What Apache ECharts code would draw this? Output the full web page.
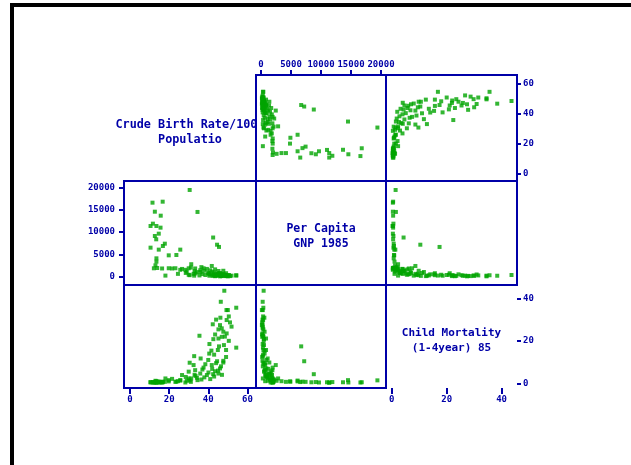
<!DOCTYPE html>
<html>
<head>
<meta charset="utf-8">
<script src="https://cdn.jsdelivr.net/npm/echarts@6/dist/echarts.min.js"></script>
<style>
html, body { margin: 0; padding: 0; background: #ffffff; }
#chart { width: 631px; height: 465px; }
</style>
</head>
<body>
<div id="chart"></div>
<script>
// One entry per country: crude birth rate, per capita GNP 1985, child mortality (1-4 years) 1985
const birthRate = [
  11.5, 16.7, 12.7, 15.7, 10.5, 11.7, 13.5, 15.6, 14.7, 12.7,
  13.4, 17.8, 16.8, 10.5, 14.7, 19.8, 13.5, 13.5, 25.7, 23.7,
  30.5, 34.5, 42.5, 44.5, 45.5, 31.3, 41.8,
  12.2, 13.9, 16.4, 19.8, 21.5, 23.2, 26.6, 30.0, 33.3, 37.6,
  18.1, 25.7, 28.3, 31.1, 13.0,
  48.2, 46.4, 54.3, 49.3, 50.0, 46.2, 42.3, 49.4, 51.1, 51.9,
  46.0, 45.2, 47.7, 49.4, 35.5, 42.6, 45.2, 46.9, 54.3, 40.6,
  49.1, 41.6, 32.8, 36.1, 49.1, 47.7, 30.5, 32.5, 30.0, 40.1,
  43.5, 45.2, 35.9, 34.2, 39.3, 47.7, 44.9, 43.5, 46.9,
  43.0, 38.5, 44.0, 46.5, 48.0, 50.5, 40.0, 37.0, 42.0, 45.0,
  33.0, 28.5, 38.0, 43.0, 47.0, 36.5, 29.0, 40.5, 48.5, 44.0,
  50.5, 33.5, 24.5, 46.0, 41.0
];
const gnpPerCapita = [
  16570, 16790, 14560, 13670, 11370, 11890, 11370, 11000, 9660, 9140,
  8400, 7430, 6910, 6540, 6100, 4830, 4160, 3420, 6100, 4900,
  19400, 14500, 8800, 7200, 6700, 2850, 2460,
  1940, 2000, 1900, 1950, 1900, 1950, 1800, 1940, 1900, 1940,
  310, 1600, 1600, 2100, 2600,
  440, 280, 390, 300, 150, 560, 250, 350, 200, 300,
  150, 400, 600, 250, 350, 500, 840, 200, 320, 280,
  840, 600, 300, 1110, 200, 1390, 400, 700, 500, 800,
  1700, 1340, 1500, 1100, 1800, 250, 400, 180, 270,
  350, 450, 700, 300, 500, 450, 900, 650, 1200, 600,
  1300, 900, 1400, 1000, 700, 2200, 1200, 600, 400, 250,
  350, 800, 700, 900, 1500
];
const childMortality = [
  0.4, 0.5, 0.4, 0.5, 0.4, 0.6, 0.3, 0.5, 0.4, 0.6,
  0.5, 0.7, 0.8, 0.6, 0.9, 0.9, 0.7, 1.0, 1.3, 0.8,
  1.4, 1.5, 4.3, 10.4, 17.4, 2.3, 8.6,
  0.4, 0.5, 0.4, 1.5, 2.1, 0.7, 3.9, 2.3, 6.2, 7.4,
  2.3, 1.5, 0.4, 0.7, 1.2,
  43.6, 38.4, 35.6, 34.5, 34.5, 30.9, 27.8, 29.8, 28.7, 26.7,
  27.4, 25.4, 24.3, 23.5, 22.4, 20.8, 21.1, 21.9, 16.8, 18.5,
  15.7, 15.4, 12.8, 11.7, 12.4, 9.8, 9.7, 8.6, 5.5, 5.1,
  5.7, 4.6, 4.6, 2.6, 3.9, 10.6, 15.7, 23.0, 25.9,
  13.5, 9.0, 9.5, 8.0, 18.0, 20.0, 11.0, 6.5, 6.8, 6.0,
  4.0, 3.0, 2.8, 3.2, 4.0, 1.8, 1.2, 14.0, 22.0, 30.0,
  31.5, 3.5, 1.0, 7.0, 2.0
];

// Tick labels for each variable
const birthTicks = [0, 20, 40, 60];
const gnpTicks = [0, 5000, 10000, 15000, 20000];
const mortTicks = [0, 20, 40];

// Titles shown on the diagonal
const birthTitle = ['Crude Birth Rate/1000', 'Populatio'];
const gnpTitle = ['Per Capita', 'GNP 1985'];
const mortTitle = ['Child Mortality', '(1-4year) 85'];

const BLUE = '#0000a8';
const GREEN = '#00a400';
const MONO = '"DejaVu Sans Mono", "Liberation Mono", monospace';

// Matrix layout: column and row edges in pixels
const colX = [124, 256, 386, 517];
const rowY = [75, 181, 285, 388];

const variables = [
  { values: birthRate, ticks: birthTicks, title: birthTitle, titleSize: 11.8, xRange: [-3.07, 64.4], yRange: [-5.1, 65.5] },
  { values: gnpPerCapita, ticks: gnpTicks, title: gnpTitle, titleSize: 11.5, xRange: [-833, 20833], yRange: [-1784, 21400] },
  { values: childMortality, ticks: mortTicks, title: mortTitle, titleSize: 11, xRange: [-2.1, 45.6], yRange: [-2.2, 46.3] }
];

const grids = [], xAxes = [], yAxes = [], series = [];

function tickLabels(ticks, margin) {
  return {
    show: true, customValues: ticks, formatter: (v) => String(v), hideOverlap: false,
    showMinLabel: true, showMaxLabel: true,
    color: BLUE, fontFamily: MONO, fontWeight: 'bold', fontSize: 9, margin: margin
  };
}
function ticksOut(ticks, len) {
  return { show: true, inside: false, length: len, customValues: ticks, lineStyle: { color: BLUE, width: 2 } };
}

function addCell(r, c, withBorder) {
  const idx = grids.length;
  grids.push({
    left: colX[c], top: rowY[r],
    width: colX[c + 1] - colX[c], height: rowY[r + 1] - rowY[r],
    show: withBorder, borderColor: BLUE, borderWidth: 2, backgroundColor: 'transparent',
    containLabel: false, outerBoundsMode: 'none'
  });
  const xv = variables[c], yv = variables[r];
  const hidden = () => ({
    axisLine: { show: false, onZero: false }, axisTick: { show: false }, axisLabel: { show: false },
    splitLine: { show: false }
  });
  const xa = Object.assign({ type: 'value', gridIndex: idx, min: xv.xRange[0], max: xv.xRange[1] }, hidden());
  const ya = Object.assign({ type: 'value', gridIndex: idx, min: yv.yRange[0], max: yv.yRange[1] }, hidden());
  // Column 1 (GNP) is labelled along the top of the first row
  if (r === 0 && c === 1) {
    xa.position = 'top';
    xa.axisTick = ticksOut(xv.ticks, 5);
    xa.axisLabel = tickLabels(xv.ticks, 6);
  }
  // Columns 0 and 2 are labelled along the bottom of the last row
  if (r === 2 && (c === 0 || c === 2)) {
    xa.position = 'bottom';
    xa.axisTick = ticksOut(xv.ticks, 6);
    xa.axisLabel = tickLabels(xv.ticks, 7);
  }
  // Rows 0 and 2 are labelled on the right of the last column
  if (c === 2 && (r === 0 || r === 2)) {
    ya.position = 'right';
    ya.axisTick = ticksOut(yv.ticks, 4);
    ya.axisLabel = tickLabels(yv.ticks, 6);
  }
  // Row 1 (GNP) is labelled on the left of the first column
  if (r === 1 && c === 0) {
    ya.position = 'left';
    ya.axisTick = ticksOut(yv.ticks, 5);
    ya.axisLabel = tickLabels(yv.ticks, 9);
  }
  xAxes.push(xa);
  yAxes.push(ya);
  if (r !== c) {
    series.push({
      type: 'scatter', xAxisIndex: idx, yAxisIndex: idx,
      symbol: 'rect', symbolSize: 4, silent: true,
      itemStyle: { color: GREEN },
      data: xv.values.map((v, i) => [v, yv.values[i]])
    });
  }
}

for (let r = 0; r < 3; r++) {
  for (let c = 0; c < 3; c++) {
    if (r !== c) addCell(r, c, true);
  }
}
// Bottom-right diagonal cell carries the child mortality ticks but no frame
addCell(2, 2, false);

// Page frame and diagonal titles
const graphics = [
  { type: 'rect', shape: { x: 10, y: 3, width: 621, height: 4 }, style: { fill: '#000' }, z: 5 },
  { type: 'rect', shape: { x: 10, y: 3, width: 4, height: 462 }, style: { fill: '#000' }, z: 5 }
];
variables.forEach((v, k) => {
  const cx = (colX[k] + colX[k + 1]) / 2;
  const cy = (rowY[k] + rowY[k + 1]) / 2 + 4;
  v.title.forEach((line, j) => {
    graphics.push({
      type: 'text', z: 1, x: cx, y: cy + (j - (v.title.length - 1) / 2) * 15,
      style: {
        text: line, fill: BLUE, font: 'bold ' + v.titleSize + 'px ' + MONO,
        align: 'center', verticalAlign: 'middle'
      }
    });
  });
});
// Keep the first title inside its cell
graphics.push({
  type: 'rect', z: 1.5, shape: { x: 257.5, y: 112, width: 20, height: 22 },
  style: { fill: '#ffffff' }
});

const chart = echarts.init(document.getElementById('chart'), null, { renderer: 'canvas' });
chart.setOption({
  animation: false,
  backgroundColor: '#ffffff',
  grid: grids,
  xAxis: xAxes,
  yAxis: yAxes,
  series: series,
  graphic: graphics
});
</script>
</body>
</html>
